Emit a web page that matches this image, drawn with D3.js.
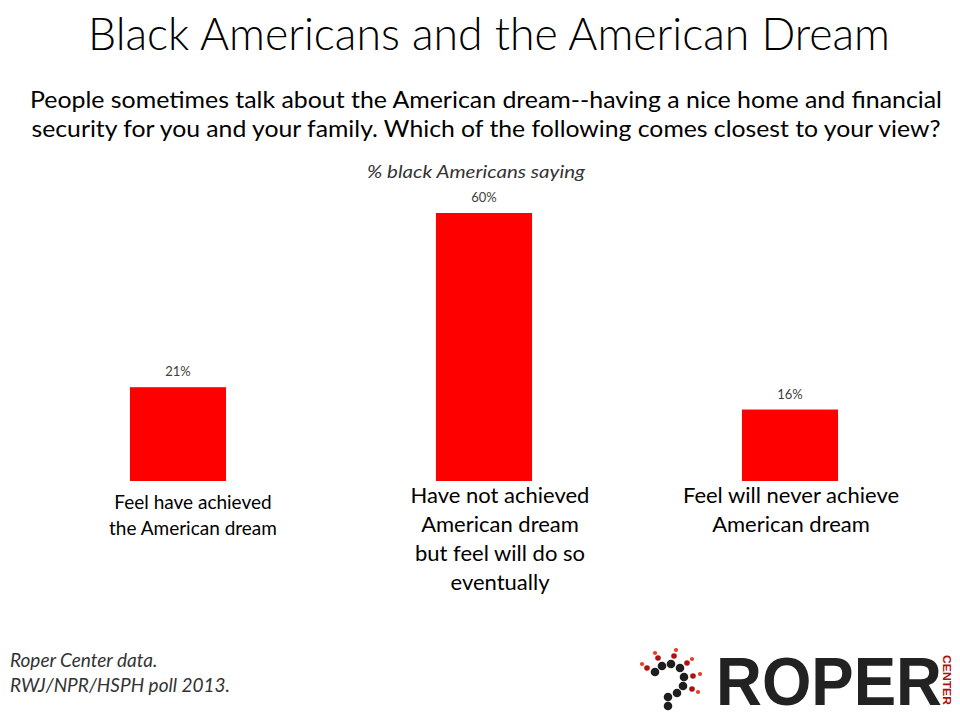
<!DOCTYPE html>
<html><head><meta charset="utf-8">
<script src="https://cdn.jsdelivr.net/npm/d3@7"></script>
<style>body{margin:0;background:#fff}svg{display:block}</style>
</head><body>
<script>
const categories = ["Feel have achieved the American dream", "Have not achieved American dream but feel will do so eventually", "Feel will never achieve American dream"];
const labelLines = [["Feel have achieved", "the American dream"], ["Have not achieved", "American dream", "but feel will do so", "eventually"], ["Feel will never achieve", "American dream"]];
const values = [21, 60, 16];
const valueLabels = ["21%", "60%", "16%"];
const titleText = "Black Americans and the American Dream";
const subtitleLines = ["People sometimes talk about the American dream--having a nice home and financial", "security for you and your family. Which of the following comes closest to your view?"];
const axisNote = "% black Americans saying";
const sourceLines = ["Roper Center data.", "RWJ/NPR/HSPH poll 2013."];

const W = 960, H = 720;
const svg = d3.select("body").append("svg").attr("width", W).attr("height", H);
const font = "Lato, 'Open Sans', sans-serif";

// Title
svg.append("text").attr("x", 489).attr("y", 50).attr("text-anchor", "middle")
  .attr("font-family", font).attr("font-weight", 300).attr("font-size", 45).attr("fill", "#000")
  .attr("textLength", 802).attr("lengthAdjust", "spacingAndGlyphs").text(titleText);

// Subtitle
const subW = [912, 909];
subtitleLines.forEach((t, i) => {
  svg.append("text").attr("x", 486).attr("y", 108 + i * 29).attr("text-anchor", "middle")
    .attr("font-family", font).attr("font-size", 23).attr("fill", "#000")
    .attr("textLength", subW[i]).attr("lengthAdjust", "spacingAndGlyphs").text(t);
});

// Axis note
svg.append("text").attr("x", 476).attr("y", 178).attr("text-anchor", "middle")
  .attr("font-family", font).attr("font-style", "italic").attr("font-size", 17).attr("fill", "#333")
  .attr("textLength", 218).attr("lengthAdjust", "spacingAndGlyphs").text(axisNote);

// Scales
const x = d3.scaleBand().domain(categories).range([25, 943]).paddingInner(0.686).paddingOuter(0.343);
const y = d3.scaleLinear().domain([0, 60]).range([481, 213]);

svg.selectAll("rect.bar").data(values).join("rect").attr("class", "bar")
  .attr("x", (d, i) => x(categories[i])).attr("y", d => y(d))
  .attr("width", x.bandwidth()).attr("height", d => y(0) - y(d)).attr("fill", "#ff0000");

svg.selectAll("text.val").data(values).join("text").attr("class", "val")
  .attr("x", (d, i) => x(categories[i]) + x.bandwidth() / 2).attr("y", d => y(d) - 11)
  .attr("text-anchor", "middle").attr("font-family", font).attr("font-size", 13).attr("fill", "#404040")
  .text((d, i) => valueLabels[i]);

// Category labels
const labelStyle = [{dx: 15, y0: 509, lh: 26, fs: 19}, {dx: 16, y0: 503, lh: 29, fs: 22}, {dx: 1, y0: 503, lh: 29, fs: 22}];
labelLines.forEach((lines, i) => {
  const s = labelStyle[i];
  const cx = x(categories[i]) + x.bandwidth() / 2 + s.dx;
  lines.forEach((t, j) => {
    svg.append("text").attr("x", cx).attr("y", s.y0 + j * s.lh).attr("text-anchor", "middle")
      .attr("font-family", font).attr("font-size", s.fs).attr("fill", "#000").text(t);
  });
});

// Source
sourceLines.forEach((t, i) => {
  svg.append("text").attr("x", 10).attr("y", 667 + i * 25)
    .attr("font-family", font).attr("font-style", "italic").attr("font-size", 19).attr("fill", "#333").text(t);
});

// Logo
const logo = svg.append("g");
const black = [[655,672],[662,666],[671,664],[680,668],[684,677],[683,686],[677,693],[668,697],[668,706]];
const dark = [[647,668],[658,658],[674,656],[687,663],[693,676],[692,689]];
const light = [[642,664],[655,653],[676,650],[692,659],[700,674],[698,692]];
logo.selectAll("circle.b").data(black).join("circle").attr("cx", d => d[0]).attr("cy", d => d[1]).attr("r", 4.3).attr("fill", "#1e1e1e");
logo.selectAll("circle.d").data(dark).join("circle").attr("cx", d => d[0]).attr("cy", d => d[1]).attr("r", 2.8).attr("fill", "#b01010");
logo.selectAll("circle.l").data(light).join("circle").attr("cx", d => d[0]).attr("cy", d => d[1]).attr("r", 2.1).attr("fill", "#f03a1e");
logo.append("text").attr("x", 716).attr("y", 705).attr("font-family", "'Liberation Sans', Arial, sans-serif")
  .attr("font-weight", "bold").attr("font-size", 68).attr("fill", "#222").attr("textLength", 226).attr("lengthAdjust", "spacingAndGlyphs").text("ROPER");
logo.append("text").attr("transform", "translate(943,655) rotate(90)").attr("font-family", "'Liberation Sans', Arial, sans-serif")
  .attr("font-weight", "bold").attr("font-size", 11).attr("fill", "#b01010").attr("textLength", 50).attr("lengthAdjust", "spacingAndGlyphs").text("CENTER");
</script>
</body></html>
